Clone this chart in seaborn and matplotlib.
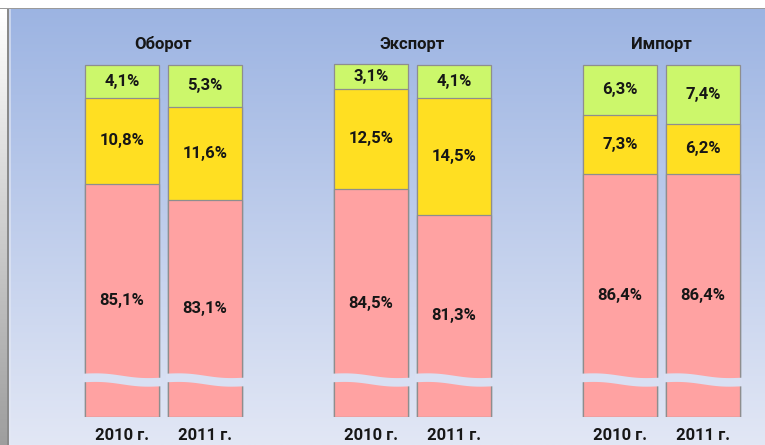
import numpy as np
import pandas as pd
import matplotlib.pyplot as plt
import seaborn as sns
from matplotlib.patches import Rectangle, Polygon
from matplotlib.colors import to_rgb

sns.set_theme(style="white")
plt.rcParams["font.family"] = ["Roboto", "DejaVu Sans"]

# data
groups = ["Оборот", "Экспорт", "Импорт"]
years = ["2010 г.", "2011 г."]
positions = [0, 1, 3, 4, 6, 7]
pink_vals = [85.1, 83.1, 84.5, 81.3, 86.4, 86.4]
yellow_vals = [10.8, 11.6, 12.5, 14.5, 7.3, 6.2]
green_vals = [4.1, 5.3, 3.1, 4.1, 6.3, 7.4]

df = pd.DataFrame({"pos": positions, "pink": pink_vals,
                   "yellow": yellow_vals, "green": green_vals})
df["py"] = df["pink"] + df["yellow"]
df["total"] = df["py"] + df["green"]

c_green, c_yellow, c_pink = "#ccf76b", "#ffdf22", "#ffa2a2"
edge = "#8e8e8e"
txt = "#161616"

W, H = 765, 445
fig = plt.figure(figsize=(W / 100, H / 100), dpi=100)

# background panel with vertical gradient
top_c, bot_c = np.array(to_rgb("#9bb3e2")), np.array(to_rgb("#e2e7f5"))
def bg_at(y):
    t = np.clip(y / H, 0, 1)
    return top_c * (1 - t) + bot_c * t

bg = fig.add_axes([0, 0, 1, 1], zorder=0)
ys = np.linspace(0, H, 200)
grad = np.array([bg_at(y) for y in ys])[:, None, :]
bg.imshow(grad, extent=[0, W, H, 0], aspect="auto")
bg.add_patch(Rectangle((0, 0), W, 7.5, color="white", lw=0))
bg.add_patch(Rectangle((0, 7.5), W, 1.5, color="#9a9a9a", lw=0))
side = np.linspace(1.0, 0.62, 100)[:, None, None] * np.ones((1, 1, 3))
bg.imshow(side, extent=[0, 8, H, 9], aspect="auto")
bg.add_patch(Rectangle((7.5, 9), 1.5, H, color="#8a8a8a", lw=0))
bg.add_patch(Rectangle((9, 9), 2, H, color="#e4e9f5", lw=0, alpha=0.6))
bg.set_xlim(0, W)
bg.set_ylim(H, 0)
bg.axis("off")

# broken axis: upper part and small lower part
xlim = (-122 / 83, (W - 122) / 83)
top_lo, bot_hi = 60.6, 4.47
ax_top = fig.add_axes([0, 1 - 381 / H, 1, 318 / H], zorder=2)
ax_bot = fig.add_axes([0, 1 - 417 / H, 1, 36 / H], zorder=2)
for ax in (ax_top, ax_bot):
    for col, color in [("total", c_green), ("py", c_yellow), ("pink", c_pink)]:
        sns.barplot(data=df, x="pos", y=col, native_scale=True, width=0.89,
                    color=color, saturation=1, edgecolor=edge, linewidth=0.9,
                    errorbar=None, ax=ax)
    ax.set_xlim(*xlim)
    ax.patch.set_alpha(0)
    ax.axis("off")
ax_top.set_ylim(top_lo, 100.2)
ax_bot.set_ylim(0, bot_hi)

# value labels
px_per_unit = 318 / (100.2 - top_lo)
extra = 36 / px_per_unit
for _, r in df.iterrows():
    kw = dict(ha="center", va="center", fontsize=12, fontweight="bold", color=txt)
    ax_top.text(r["pos"], r["py"] + r["green"] / 2, f"{r['green']:.1f}%".replace(".", ","), **kw)
    ax_top.text(r["pos"], r["pink"] + r["yellow"] / 2, f"{r['yellow']:.1f}%".replace(".", ","), **kw)
    mid = r["pink"] - ((r["pink"] - top_lo) + extra) / 2
    ax_top.text(r["pos"], mid, f"{r['pink']:.1f}%".replace(".", ","), **kw)

# overlay: break bands, titles, year labels
ov = fig.add_axes([0, 0, 1, 1], zorder=5)
ov.set_xlim(*xlim)
ov.set_ylim(H, 0)
ov.axis("off")
t = np.linspace(0, 1, 60)
for p in positions:
    xs = p - 0.47 + t * 0.94
    center = 378 + 4 * t - 1.2 * np.sin(2 * np.pi * t)
    pts = np.concatenate([np.column_stack([xs, center - 4.3]),
                          np.column_stack([xs[::-1], center[::-1] + 4.3])])
    ov.add_patch(Polygon(pts, closed=True, color=bg_at(380) * 0.97 + 0.03, lw=0))

for i, g in enumerate(groups):
    ov.text(positions[2 * i] + 0.5, 44, g, ha="center", va="center",
            fontsize=12, fontweight="bold", color=txt)
for i, p in enumerate(positions):
    ov.text(p, 436, years[i % 2], ha="center", va="center",
            fontsize=12, fontweight="bold", color=txt)

fig.savefig("out.png", dpi=100)
